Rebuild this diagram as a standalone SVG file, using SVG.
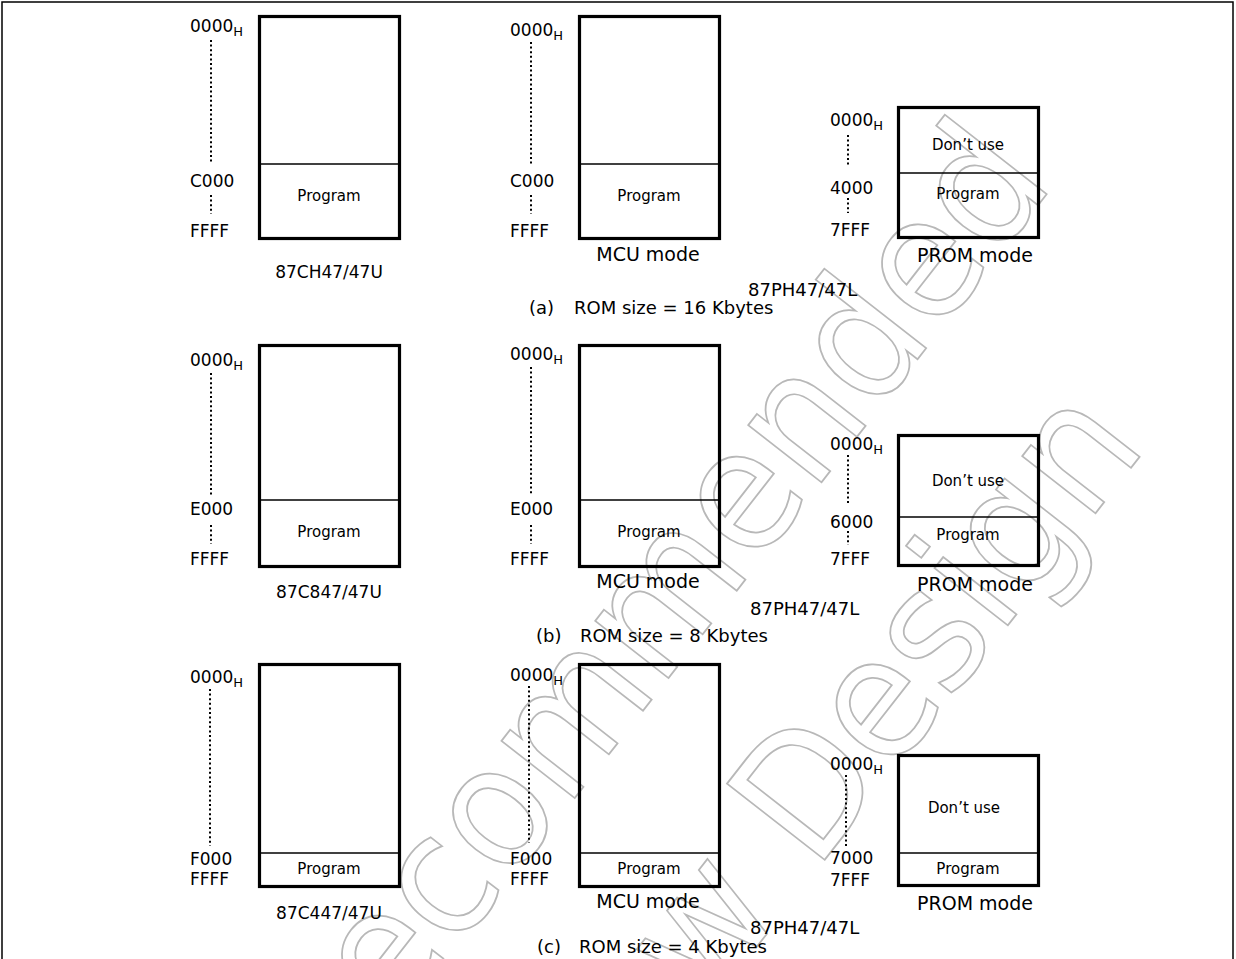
<svg xmlns="http://www.w3.org/2000/svg" width="1236" height="959" viewBox="0 0 1236 959">
<style>
text{font-family:"DejaVu Sans","Liberation Sans",sans-serif;fill:#000}
.lbl{font-size:17px}
.sub{font-size:13px}
.inb{font-size:15px;text-anchor:middle}
.mode{font-size:19px;text-anchor:middle}
.part{font-size:17px;text-anchor:middle}
.cap{font-size:18px}
.box{fill:none;stroke:#000;stroke-width:3.2}
.div{stroke:#000;stroke-width:1.5}
.dot{stroke:#000;stroke-width:2;stroke-dasharray:2 2.6;fill:none}
.wm{font-family:"DejaVu Sans",sans-serif;font-size:170px;fill:none;stroke:#b8b8b8;stroke-width:1.8}
</style>
<rect x="0" y="0" width="1236" height="959" fill="#fff"/>
<rect x="2" y="2" width="1231" height="1000" fill="none" stroke="#000" stroke-width="1.5"/>
<g id="watermark" transform="translate(542,840) rotate(-52) scale(0.92,1)">
<text class="wm" x="-722" y="0">Not Recommended</text>
<text class="wm" x="-557" y="235">for New Design</text>
</g>
<g id="connectors">
<line class="dot" x1="211" y1="40" x2="211" y2="164"/>
<line class="dot" x1="211" y1="195" x2="211" y2="214"/>
<line class="dot" x1="531" y1="42" x2="531" y2="165"/>
<line class="dot" x1="531" y1="195" x2="531" y2="214"/>
<line class="dot" x1="848" y1="135" x2="848" y2="167"/>
<line class="dot" x1="848" y1="198" x2="848" y2="213"/>
<line class="dot" x1="211" y1="373" x2="211" y2="496"/>
<line class="dot" x1="211" y1="525" x2="211" y2="544"/>
<line class="dot" x1="531" y1="367" x2="531" y2="494"/>
<line class="dot" x1="531" y1="525" x2="531" y2="544"/>
<line class="dot" x1="848" y1="455" x2="848" y2="505"/>
<line class="dot" x1="848" y1="531" x2="848" y2="545"/>
<line class="dot" x1="210" y1="689" x2="210" y2="846"/>
<line class="dot" x1="529" y1="686" x2="529" y2="843"/>
<line class="dot" x1="846" y1="775" x2="846" y2="846"/>
</g>
<g id="a-87CH47">
<rect class="box" x="259.5" y="16.5" width="140" height="222"/>
<line class="div" x1="259.5" y1="164" x2="399.5" y2="164"/>
<text class="inb" x="329" y="201">Program</text>
<text class="lbl" x="190" y="32">0000<tspan class="sub" dy="4">H</tspan></text>
<text class="lbl" x="190" y="187">C000</text>
<text class="lbl" x="190" y="237">FFFF</text>
<text class="part" x="329" y="278">87CH47/47U</text>
</g>
<g id="a-mcu">
<rect class="box" x="579.5" y="16.5" width="140" height="222"/>
<line class="div" x1="579.5" y1="164" x2="719.5" y2="164"/>
<text class="inb" x="649" y="201">Program</text>
<text class="lbl" x="510" y="36">0000<tspan class="sub" dy="4">H</tspan></text>
<text class="lbl" x="510" y="187">C000</text>
<text class="lbl" x="510" y="237">FFFF</text>
<text class="mode" x="648" y="261">MCU mode</text>
</g>
<g id="a-prom">
<rect class="box" x="898.5" y="107.5" width="140" height="130"/>
<line class="div" x1="898.5" y1="173" x2="1038.5" y2="173"/>
<text class="inb" x="968" y="150">Don’t use</text>
<text class="inb" x="968" y="199">Program</text>
<text class="lbl" x="830" y="126">0000<tspan class="sub" dy="4">H</tspan></text>
<text class="lbl" x="830" y="194">4000</text>
<text class="lbl" x="830" y="236">7FFF</text>
<text class="mode" x="975" y="262">PROM mode</text>
</g>
<g id="a-caption">
<text class="cap" x="748" y="296">87PH47/47L</text>
<text class="cap" x="529" y="314">(a)</text>
<text class="cap" x="574" y="314">ROM size = 16 Kbytes</text>
</g>
<g id="b-87C847">
<rect class="box" x="259.5" y="345.5" width="140" height="221"/>
<line class="div" x1="259.5" y1="500" x2="399.5" y2="500"/>
<text class="inb" x="329" y="537">Program</text>
<text class="lbl" x="190" y="366">0000<tspan class="sub" dy="4">H</tspan></text>
<text class="lbl" x="190" y="515">E000</text>
<text class="lbl" x="190" y="565">FFFF</text>
<text class="part" x="329" y="598">87C847/47U</text>
</g>
<g id="b-mcu">
<rect class="box" x="579.5" y="345.5" width="140" height="221"/>
<line class="div" x1="579.5" y1="500" x2="719.5" y2="500"/>
<text class="inb" x="649" y="537">Program</text>
<text class="lbl" x="510" y="360">0000<tspan class="sub" dy="4">H</tspan></text>
<text class="lbl" x="510" y="515">E000</text>
<text class="lbl" x="510" y="565">FFFF</text>
<text class="mode" x="648" y="588">MCU mode</text>
</g>
<g id="b-prom">
<rect class="box" x="898.5" y="435.5" width="140" height="130"/>
<line class="div" x1="898.5" y1="517" x2="1038.5" y2="517"/>
<text class="inb" x="968" y="486">Don’t use</text>
<text class="inb" x="968" y="540">Program</text>
<text class="lbl" x="830" y="450">0000<tspan class="sub" dy="4">H</tspan></text>
<text class="lbl" x="830" y="528">6000</text>
<text class="lbl" x="830" y="565">7FFF</text>
<text class="mode" x="975" y="591">PROM mode</text>
</g>
<g id="b-caption">
<text class="cap" x="750" y="615">87PH47/47L</text>
<text class="cap" x="536" y="642">(b)</text>
<text class="cap" x="580" y="642">ROM size = 8 Kbytes</text>
</g>
<g id="c-87C447">
<rect class="box" x="259.5" y="664.5" width="140" height="222"/>
<line class="div" x1="259.5" y1="853" x2="399.5" y2="853"/>
<text class="inb" x="329" y="874">Program</text>
<text class="lbl" x="190" y="683">0000<tspan class="sub" dy="4">H</tspan></text>
<text class="lbl" x="190" y="865">F000</text>
<text class="lbl" x="190" y="885">FFFF</text>
<text class="part" x="329" y="919">87C447/47U</text>
</g>
<g id="c-mcu">
<rect class="box" x="579.5" y="664.5" width="140" height="222"/>
<line class="div" x1="579.5" y1="853" x2="719.5" y2="853"/>
<text class="inb" x="649" y="874">Program</text>
<text class="lbl" x="510" y="681">0000<tspan class="sub" dy="4">H</tspan></text>
<text class="lbl" x="510" y="865">F000</text>
<text class="lbl" x="510" y="885">FFFF</text>
<text class="mode" x="648" y="908">MCU mode</text>
</g>
<g id="c-prom">
<rect class="box" x="898.5" y="755.5" width="140" height="130"/>
<line class="div" x1="898.5" y1="853" x2="1038.5" y2="853"/>
<text class="inb" x="964" y="813">Don’t use</text>
<text class="inb" x="968" y="874">Program</text>
<text class="lbl" x="830" y="770">0000<tspan class="sub" dy="4">H</tspan></text>
<text class="lbl" x="830" y="864">7000</text>
<text class="lbl" x="830" y="886">7FFF</text>
<text class="mode" x="975" y="910">PROM mode</text>
</g>
<g id="c-caption">
<text class="cap" x="750" y="934">87PH47/47L</text>
<text class="cap" x="537" y="953">(c)</text>
<text class="cap" x="579" y="953">ROM size = 4 Kbytes</text>
</g>
</svg>
